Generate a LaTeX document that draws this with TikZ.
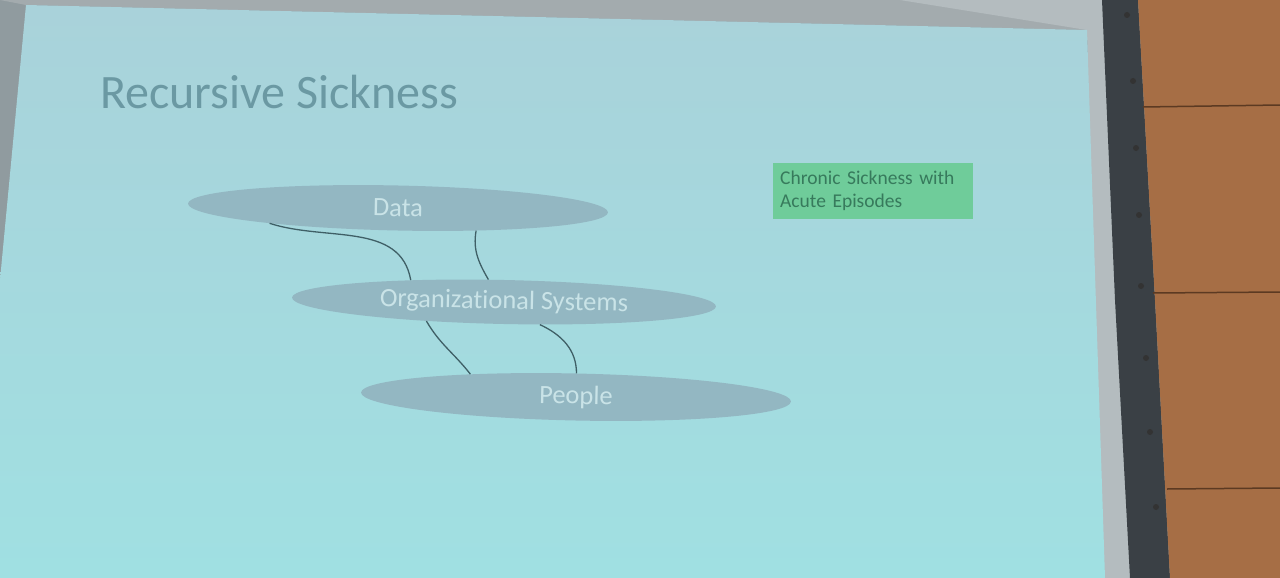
\documentclass[tikz,border=0pt]{standalone}
\usepackage{fontspec}
\setmainfont[Ligatures=NoCommon]{Carlito}
\usetikzlibrary{shapes.geometric}
\definecolor{wallgray}{HTML}{909B9F}
\definecolor{topgray}{HTML}{A3ABAE}
\definecolor{lightborder}{HTML}{B4BCBF}
\definecolor{frame}{HTML}{3A4045}
\definecolor{wood}{HTML}{A66E45}
\definecolor{woodline}{HTML}{5C3A22}
\definecolor{slidetop}{HTML}{A9D2DA}
\definecolor{slidebot}{HTML}{A0E0E2}
\definecolor{ellfill}{HTML}{93B7C2}
\definecolor{elltext}{HTML}{C9E3E7}
\definecolor{titlecol}{HTML}{6B99A3}
\definecolor{linkcol}{HTML}{3F5F66}
\definecolor{greenbox}{HTML}{6FCC9A}
\definecolor{greentext}{HTML}{377A5C}
\tikzset{
  layer/.style={ellipse, fill=ellfill, inner sep=0pt, text=elltext, font=\fontsize{26.5}{30}\selectfont},
  link/.style={draw=linkcol, line width=1.3pt},
  rivet/.style={circle, fill=black!80, inner sep=0pt, minimum size=6pt},
}
\begin{document}
\begin{tikzpicture}[x=1pt,y=-1pt]
\useasboundingbox (0,0) rectangle (1280,578);
% wall and frame
\fill[wallgray] (0,0) rectangle (1280,578);
\fill[topgray] (0,0) -- (1103,0) -- (1087,30) -- (26,5) -- cycle;
\fill[lightborder] (900,0) -- (1103,0) -- (1131,578) -- (1100,578) -- (1087,30) -- cycle;
\fill[frame] (1102,0) -- (1138,0) -- (1155,300) -- (1170,578) -- (1130,578) -- (1115,300) -- cycle;
\fill[wood] (1138,0) -- (1280,0) -- (1280,578) -- (1170,578) -- (1155,300) -- cycle;
\draw[woodline, line width=1.5pt] (1143,107) -- (1280,105);
\draw[woodline, line width=1.5pt] (1153,293) -- (1280,292);
\draw[woodline, line width=1.5pt] (1167,489) -- (1280,488);
\foreach \i/\x/\y in {1/1127/15,2/1133/81,3/1136/148,4/1139/215,5/1141/286,6/1146/358,7/1150/432,8/1156/507}
  \node[rivet] (r\i) at (\x,\y) {};
% slide
\shade[top color=slidetop, bottom color=slidebot]
  (26,5) -- (1087,30) -- (1105,578) -- (0,578) -- (0,280) -- cycle;
% title
\node[anchor=west, text=titlecol, font=\fontsize{48}{54}\selectfont, inner sep=0pt] (title) at (100,92) {Recursive Sickness};
% layers
\node[layer, minimum width=420pt, minimum height=45pt, rotate=-1.2] (data) at (398,208) {Data};
\node[layer, minimum width=424pt, minimum height=44pt, rotate=-1.2] (org) at (504,302) {Organizational Systems};
\node[layer, minimum width=430pt, minimum height=47pt, rotate=-1.2] (people) at (576,397) {People};
% links
\draw[link] (data.188) to[out=-18, in=100] (org.168);
\draw[link] (data.-15) to[out=-100, in=120] (org.126);
\draw[link] (org.195) to[out=-60, in=128] (people.169.5);
\draw[link] (org.-31) to[out=-25, in=90] (people.90);
% green box
\node[anchor=north west, fill=greenbox, text=greentext, minimum width=200pt, minimum height=56pt,
  text width=186pt, align=left, inner xsep=7pt, inner ysep=4pt,
  font=\fontsize{19.5}{23}\selectfont] (note) at (773,163) {Chronic Sickness with\\Acute Episodes};
\end{tikzpicture}
\end{document}
